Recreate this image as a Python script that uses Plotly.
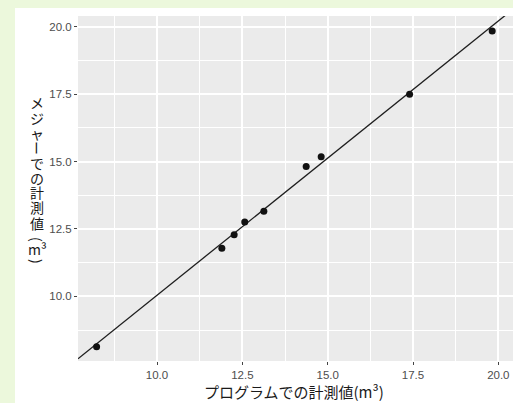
import numpy as np
import plotly.graph_objects as go

# ---- data ----
program_vals = [8.23, 11.90, 12.26, 12.57, 13.13, 14.37, 14.81, 17.40, 19.82]
measure_vals = [8.13, 11.78, 12.28, 12.76, 13.16, 14.82, 15.18, 17.50, 19.84]
x_title = "プログラムでの計測値(m³)"
y_title_chars = ["メ", "ジ", "ャ", "ー", "で", "の", "計", "測", "値", "(", "m³", ")"]
tick_vals = [10.0, 12.5, 15.0, 17.5, 20.0]

W, H = 513, 403
# panel in page pixels: left 78, top 16, right 513, bottom 361
L, T, R = 78, 16, 0
B = H - 361
pw, ph = W - L - R, H - T - B
x_range = [7.685, 20.43]
y_range = [7.60, 20.40]

def px_x(p):  # page pixel -> paper x
    return (p - L) / pw

def px_y(p):  # page pixel -> paper y
    return 1 - (p - T) / ph

slope, intercept = np.polyfit(program_vals, measure_vals, 1)
line_x = np.array(x_range)
line_y = slope * line_x + intercept

fig = go.Figure()
fig.add_trace(go.Scatter(x=line_x, y=line_y, mode="lines",
                         line=dict(color="#1e1e1e", width=1.3),
                         hoverinfo="skip", showlegend=False))
fig.add_trace(go.Scatter(x=program_vals, y=measure_vals, mode="markers",
                         marker=dict(color="#111111", size=7),
                         showlegend=False))

green = "#ecf8dc"
shapes = [
    dict(type="rect", xref="paper", yref="paper", x0=px_x(-2), x1=px_x(15),
         y0=px_y(H + 2), y1=px_y(-2), fillcolor=green, line=dict(width=0), layer="below"),
    dict(type="rect", xref="paper", yref="paper", x0=px_x(-2), x1=px_x(W + 2),
         y0=px_y(8), y1=px_y(-2), fillcolor=green, line=dict(width=0), layer="below"),
]

annotations = [dict(text=x_title, xref="paper", yref="paper", x=px_x(294), y=px_y(391),
                    showarrow=False, xanchor="center", yanchor="middle",
                    font=dict(family="Noto Sans CJK JP", size=15, color="#1a1a1a"))]
y_centers = [102, 118, 133, 148, 163, 178, 192, 207, 223, 239, 249, 261]
for ch, yc in zip(y_title_chars, y_centers):
    ang = 90 if ch in ("ー", "(", ")") else 0
    annotations.append(dict(text=ch, xref="paper", yref="paper", x=px_x(37), y=px_y(yc),
                            showarrow=False, xanchor="center", yanchor="middle",
                            textangle=ang,
                            font=dict(family="Noto Sans CJK JP", size=14, color="#1a1a1a")))

axis_common = dict(
    showline=False, zeroline=False,
    showgrid=True, gridcolor="#ffffff", gridwidth=1.6,
    ticks="outside", ticklen=3, tickwidth=1, tickcolor="#444444",
    tickvals=tick_vals, tickformat=".1f",
    tickfont=dict(family="Liberation Sans, Arial", size=11.5, color="#4d4d4d"),
    minor=dict(dtick=1.25, tick0=0, showgrid=True, gridcolor="#ffffff", gridwidth=0.8, ticks=""),
)

fig.update_layout(
    width=W, height=H,
    margin=dict(l=L, r=R, t=T, b=B, pad=0),
    paper_bgcolor="#ffffff",
    plot_bgcolor="#ebebeb",
    xaxis=dict(range=x_range, **axis_common),
    yaxis=dict(range=y_range, **axis_common),
    shapes=shapes,
    annotations=annotations,
    showlegend=False,
)

fig.write_html("out.html",
               config={"displayModeBar": False},
               post_script="document.body.style.margin='0';document.body.style.overflow='hidden';"
                           "document.body.style.background='#ecf8dc';")
